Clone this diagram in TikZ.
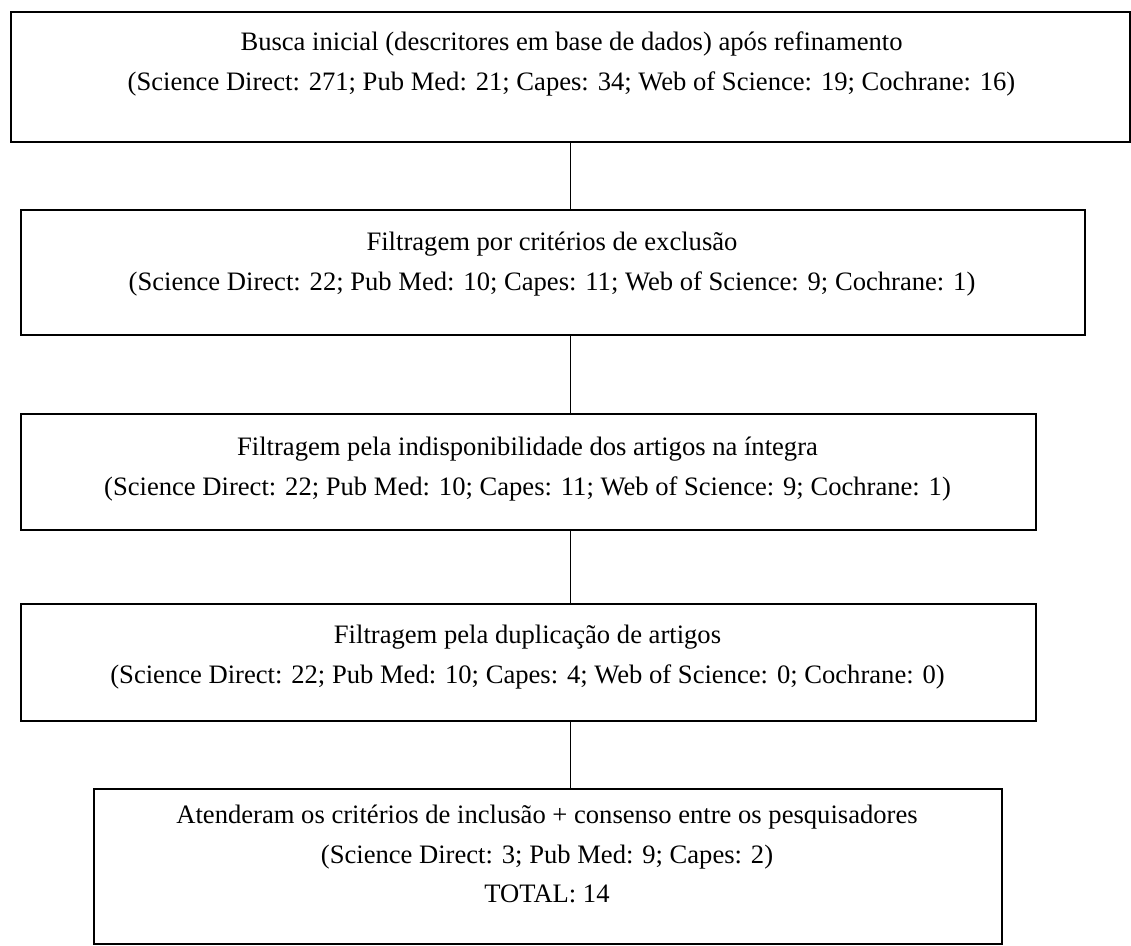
\documentclass[tikz,border=0pt]{standalone}
\usepackage{fontspec}
\setmainfont{Liberation Serif}
\usepackage{tikz}
\newdimen\pxu
\pxu=0.451pt

\begin{document}
\begin{tikzpicture}[x=0.451pt, y=-0.451pt]
	  \tikzstyle{box} = [draw=black, line width=0.7pt, inner sep=0pt, anchor=north west]
	  \tikzstyle{txt} = [align=center, inner sep=0pt, font=\fontsize{12}{18}\selectfont]
	  \useasboundingbox (0,0) rectangle (1131,945);
	  \node (b1)[box, minimum width=1119\pxu, minimum height=130\pxu] at (10,11) {};
	  \node (b2)[box, minimum width=1064\pxu, minimum height=125\pxu] at (20,209) {};
	  \node (b3)[box, minimum width=1015\pxu, minimum height=116\pxu] at (20,413) {};
	  \node (b4)[box, minimum width=1015\pxu, minimum height=117\pxu] at (20,603) {};
	  \node (b5)[box, minimum width=908\pxu, minimum height=155\pxu] at (93,788) {};
	  \node (t1)[txt] at (571.5,64) {Busca inicial (descritores em base de dados) após refinamento\\(Science Direct: 271; Pub Med: 21; Capes: 34; Web of Science: 19; Cochrane: 16)};
	  \node (t2)[txt] at (552,264) {Filtragem por critérios de exclusão\\(Science Direct: 22; Pub Med: 10; Capes: 11; Web of Science: 9; Cochrane: 1)};
	  \node (t3)[txt] at (527.5,469) {Filtragem pela indisponibilidade dos artigos na íntegra\\(Science Direct: 22; Pub Med: 10; Capes: 11; Web of Science: 9; Cochrane: 1)};
	  \node (t4)[txt] at (527.5,657) {Filtragem pela duplicação de artigos\\(Science Direct: 22; Pub Med: 10; Capes: 4; Web of Science: 0; Cochrane: 0)};
	  \node (t5)[txt] at (547,854) {Atenderam os critérios de inclusão + consenso entre os pesquisadores\\(Science Direct: 3; Pub Med: 9; Capes: 2)\\TOTAL: 14};
	  \draw [line width=0.7pt] (b1.south) -- (b1.south |- b2.north);
	  \draw [line width=0.7pt] (b1.south |- b2.south) -- (b1.south |- b3.north);
	  \draw [line width=0.7pt] (b1.south |- b3.south) -- (b1.south |- b4.north);
	  \draw [line width=0.7pt] (b1.south |- b4.south) -- (b1.south |- b5.north);
\end{tikzpicture}
\end{document}
